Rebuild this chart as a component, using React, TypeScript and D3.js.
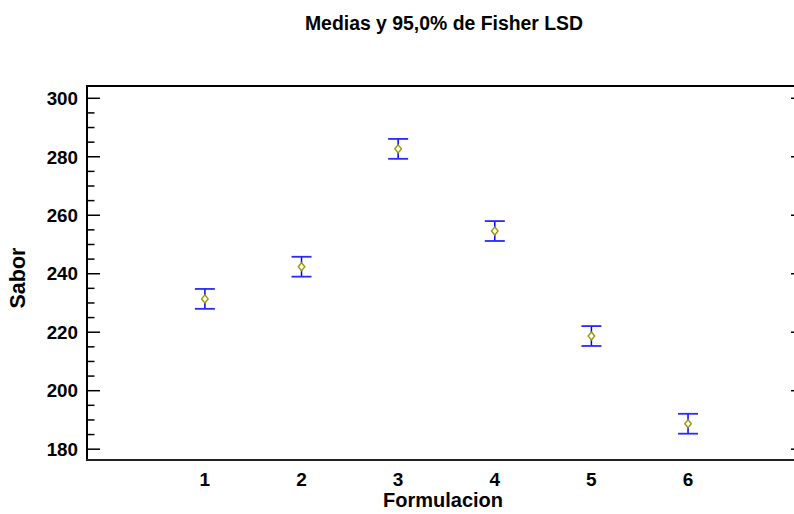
import React from "react";
import * as d3 from "d3";

const categories = [1, 2, 3, 4, 5, 6];
const means = [231.4, 242.4, 282.7, 254.6, 218.7, 188.7];
const lower = [228.0, 239.0, 279.3, 251.2, 215.3, 185.3];
const upper = [234.8, 245.8, 286.1, 258.0, 222.1, 192.1];
const yMajorTicks = [180, 200, 220, 240, 260, 280, 300];
const yMinorTicks = [185, 190, 195, 205, 210, 215, 225, 230, 235, 245, 250, 255, 265, 270, 275, 285, 290, 295];
const title = "Medias y 95,0% de Fisher LSD";
const xTitle = "Formulacion";
const yTitle = "Sabor";

const W = 794, H = 514;
const L = 87, R = 804, T = 86, B = 460;
const font = "'Liberation Sans', Arial, sans-serif";

export default function App() {
  const x = d3.scaleLinear().domain([-0.22, 7.2]).range([L, R]);
  const y = d3.scaleLinear().domain([176.3, 304.2]).range([B, T]);
  const diamond = (cx: number, cy: number) =>
    `M${cx},${cy - 4}L${cx + 3.3},${cy}L${cx},${cy + 4}L${cx - 3.3},${cy}Z`;
  return (
    <svg width={W} height={H} style={{ position: "absolute", left: 0, top: 0, background: "#fff" }}>
      <text x={444} y={30} textAnchor="middle" fontFamily={font} fontWeight="bold" fontSize={19.4} fill="#000">{title}</text>
      {/* frame */}
      <line x1={L} y1={T} x2={R} y2={T} stroke="#000" strokeWidth={2} />
      <line x1={L} y1={T - 1} x2={L} y2={B + 1} stroke="#000" strokeWidth={2} />
      <line x1={L - 1} y1={B} x2={R} y2={B} stroke="#222" strokeWidth={2} />
      <line x1={R} y1={T} x2={R} y2={B} stroke="#000" strokeWidth={2} />
      {yMajorTicks.map((t) => (
        <g key={"M" + t}>
          <line x1={L} x2={L + 13} y1={y(t)} y2={y(t)} stroke="#000" strokeWidth={1.5} />
          <line x1={R} x2={R - 13} y1={y(t)} y2={y(t)} stroke="#000" strokeWidth={1.5} />
          <text x={L - 9} y={y(t)} dy="0.36em" textAnchor="end" fontFamily={font} fontWeight="bold" fontSize={18.8} fill="#000">{t}</text>
        </g>
      ))}
      {yMinorTicks.map((t) => (
        <g key={"m" + t}>
          <line x1={L} x2={L + 7.5} y1={y(t)} y2={y(t)} stroke="#000" strokeWidth={1.5} />
          <line x1={R} x2={R - 7.5} y1={y(t)} y2={y(t)} stroke="#000" strokeWidth={1.5} />
        </g>
      ))}
      {categories.map((c) => (
        <text key={"c" + c} x={x(c)} y={486} textAnchor="middle" fontFamily={font} fontWeight="bold" fontSize={19} fill="#000">{c}</text>
      ))}
      <text x={443} y={507} textAnchor="middle" fontFamily={font} fontWeight="bold" fontSize={20} fill="#000">{xTitle}</text>
      <text transform={`translate(25,278) rotate(-90)`} textAnchor="middle" fontFamily={font} fontWeight="bold" fontSize={21.5} fill="#000">{yTitle}</text>
      {categories.map((c, i) => {
        const cx = x(c);
        return (
          <g key={"p" + c}>
            <line x1={cx} x2={cx} y1={y(upper[i])} y2={y(lower[i])} stroke="#0000ff" strokeWidth={1.5} />
            <line x1={cx - 10} x2={cx + 10} y1={y(upper[i])} y2={y(upper[i])} stroke="#2a2aff" strokeWidth={1.8} />
            <line x1={cx - 10} x2={cx + 10} y1={y(lower[i])} y2={y(lower[i])} stroke="#2a2aff" strokeWidth={1.8} />
            <path d={diamond(cx, y(means[i]))} fill="#fff" stroke="#999900" strokeWidth={1.4} />
          </g>
        );
      })}
    </svg>
  );
}
